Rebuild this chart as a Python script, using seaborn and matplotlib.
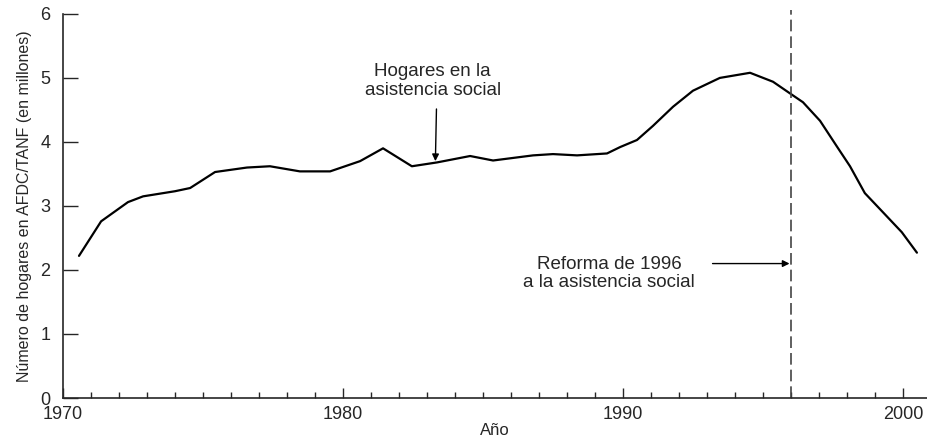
import numpy as np
import pandas as pd
import seaborn as sns
import matplotlib.pyplot as plt
from matplotlib.ticker import MultipleLocator

# Data (households on AFDC/TANF, millions)
years = [1970.57, 1971.36, 1972.32, 1972.86, 1974.0, 1974.54, 1975.43, 1976.57,
         1977.39, 1978.46, 1979.54, 1980.61, 1981.43, 1982.46, 1983.36, 1984.54,
         1985.36, 1986.79, 1987.5, 1988.36, 1989.43, 1989.9, 1990.5, 1991.07,
         1991.79, 1992.5, 1993.46, 1994.54, 1995.36, 1995.96, 1996.43, 1997.04,
         1997.64, 1998.11, 1998.64, 1999.29, 1999.96, 2000.5]
households = [2.22, 2.76, 3.06, 3.15, 3.23, 3.28, 3.53, 3.60,
              3.62, 3.54, 3.54, 3.70, 3.90, 3.62, 3.68, 3.78,
              3.71, 3.79, 3.81, 3.79, 3.82, 3.92, 4.03, 4.25,
              4.55, 4.80, 5.00, 5.08, 4.94, 4.76, 4.62, 4.33,
              3.93, 3.62, 3.20, 2.90, 2.59, 2.27]
reform_year = 1996
x_major = [1970, 1980, 1990, 2000]
y_ticks = [0, 1, 2, 3, 4, 5, 6]

df = pd.DataFrame({"year": years, "households": households})

sns.set_style("ticks")
plt.rcParams['font.family'] = ['Liberation Sans', 'DejaVu Sans']

fig = plt.figure(figsize=(9.27, 4.41), dpi=100)
ax = fig.add_axes([0.068, 0.0975, 0.932, 0.871])

sns.lineplot(data=df, x="year", y="households", color="black", linewidth=1.6, ax=ax)

# 1996 reform line
ax.axvline(reform_year, ymin=0, ymax=1.01, color="#444444", linewidth=1.2,
           linestyle=(0, (7, 3)), clip_on=False)

ax.annotate("Hogares en la\nasistencia social", xy=(1983.3, 3.70), xytext=(1983.2, 4.95),
            ha="center", va="center", fontsize=13.5, linespacing=1.1,
            arrowprops=dict(arrowstyle="-|>", color="black", lw=1.0,
                            mutation_scale=10, shrinkA=5, shrinkB=0,
                            relpos=(0.53, 0.0)))
ax.annotate("", xy=(1995.95, 2.1), xytext=(1993.2, 2.1),
            arrowprops=dict(arrowstyle="-|>", color="black", lw=1.0,
                            mutation_scale=10, shrinkA=0, shrinkB=0))
ax.text(1989.5, 1.95, "Reforma de 1996\na la asistencia social", ha="center", va="center",
        fontsize=13.5, linespacing=1.1)

ax.set_xlim(1970, 2000.86)
ax.set_ylim(0, 6)
ax.set_xticks(x_major)
ax.xaxis.set_minor_locator(MultipleLocator(1))
ax.set_yticks(y_ticks)

ax.tick_params(axis="y", direction="in", length=11, width=1, labelsize=13, pad=9)
ax.tick_params(axis="x", which="major", direction="in", length=7, width=1, labelsize=13, pad=6)
ax.tick_params(axis="x", which="minor", direction="in", length=4, width=1)

ax.set_xlabel("Año", fontsize=12, labelpad=0)
ax.set_ylabel("Número de hogares en AFDC/TANF (en millones)", fontsize=11.5, labelpad=6)

sns.despine(ax=ax)
for s in ["left", "bottom"]:
    ax.spines[s].set_linewidth(1.2)

fig.savefig("out.png", dpi=100)
